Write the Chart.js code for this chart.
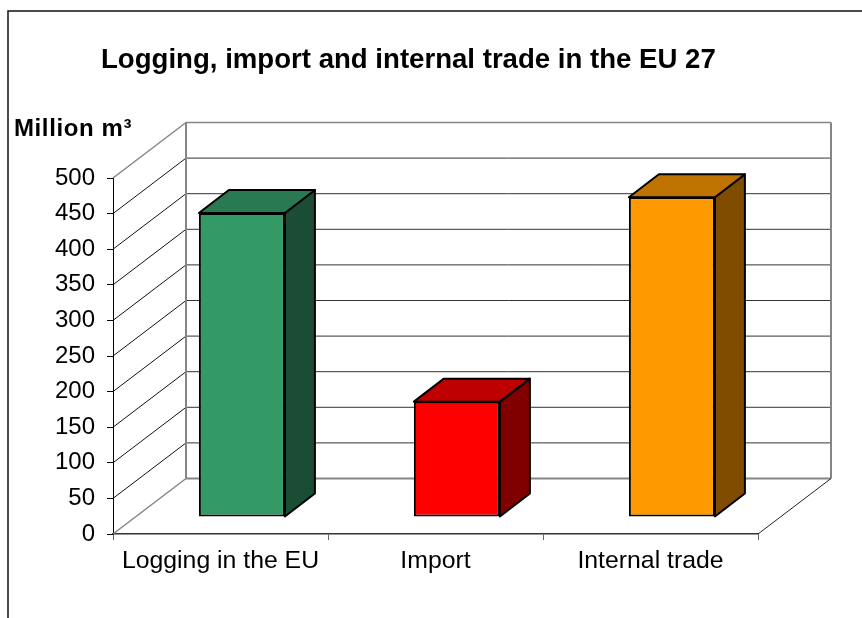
<!DOCTYPE html>
<html>
<head>
<meta charset="utf-8">
<title>Logging, import and internal trade in the EU 27</title>
<style>
  html, body { margin: 0; padding: 0; background: #fff; overflow: hidden; }
  canvas { display: block; }
</style>
<script src="https://cdn.jsdelivr.net/npm/chart.js@4/dist/chart.umd.min.js"></script>
</head>
<body>
<canvas id="grafico" width="862" height="618"></canvas>
<script>
var categorias = ['Logging in the EU', 'Import', 'Internal trade'];
var valores = [427, 162, 449];
var titulo = 'Logging, import and internal trade in the EU 27';
var tituloEje = 'Million m³';

var coloresFrente = ['#339966', '#FF0000', '#FF9900'];
var coloresTecho = ['#297A52', '#BF0000', '#BF7300'];
var coloresLado = ['#1A4D33', '#800000', '#804D00'];

// depth of the box and of the floor, in pixels
var fondoX = 73, fondoY = 55.5;
var barraX = 30, barraY = 23;
var corrX = 21.4, corrY = 17;

var gris = '#858585';

function linea(ctx, x1, y1, x2, y2, color, ancho) {
    ctx.beginPath();
    ctx.moveTo(x1, y1);
    ctx.lineTo(x2, y2);
    ctx.strokeStyle = color;
    ctx.lineWidth = ancho;
    ctx.stroke();
}

function cara(ctx, puntos, color) {
    ctx.beginPath();
    ctx.moveTo(puntos[0][0], puntos[0][1]);
    for (var i = 1; i < puntos.length; i++) ctx.lineTo(puntos[i][0], puntos[i][1]);
    ctx.closePath();
    ctx.fillStyle = color;
    ctx.fill();
    ctx.strokeStyle = '#000';
    ctx.lineWidth = 2;
    ctx.lineJoin = 'round';
    ctx.stroke();
}

var caja3d = {
    id: 'caja3d',
    beforeDatasetsDraw: function (chart) {
        var ctx = chart.ctx, a = chart.chartArea, y = chart.scales.y;
        ctx.save();
        y.ticks.forEach(function (t) {
            var py = y.getPixelForValue(t.value);
            var borde = t.value === y.min || t.value === y.max;
            if (!borde) {
                linea(ctx, a.left, py, a.left + fondoX, py - fondoY, '#111', 1);
                linea(ctx, a.left + fondoX, py - fondoY, a.right + fondoX, py - fondoY, '#333', 1);
            }
        });
        var arriba = a.top - fondoY, abajo = a.bottom - fondoY;
        // back wall
        linea(ctx, a.left + fondoX, arriba, a.right + fondoX, arriba, gris, 1.5);
        linea(ctx, a.left + fondoX, abajo, a.right + fondoX, abajo, gris, 2);
        linea(ctx, a.left + fondoX, arriba, a.left + fondoX, abajo, gris, 2);
        linea(ctx, a.right + fondoX, arriba, a.right + fondoX, abajo, gris, 2);
        // side wall and floor
        linea(ctx, a.left, a.top, a.left + fondoX, arriba, gris, 1.5);
        linea(ctx, a.left, a.bottom, a.left + fondoX, abajo, gris, 1.5);
        linea(ctx, a.right, a.bottom, a.right + fondoX, abajo, '#222', 1);
        ctx.restore();
    },
    beforeDatasetDraw: function (chart, args) {
        var ctx = chart.ctx;
        ctx.save();
        ctx.translate(corrX, -corrY);
        args.meta.data.forEach(function (b, i) {
            var mitad = b.width / 2, izq = b.x - mitad, der = b.x + mitad;
            cara(ctx, [[der, b.y], [der + barraX, b.y - barraY], [der + barraX, b.base - barraY], [der, b.base]], coloresLado[i]);
            cara(ctx, [[izq, b.y], [izq + barraX, b.y - barraY], [der + barraX, b.y - barraY], [der, b.y]], coloresTecho[i]);
        });
    },
    afterDatasetDraw: function (chart) {
        chart.ctx.restore();
    },
    afterDraw: function (chart) {
        var ctx = chart.ctx;
        ctx.save();
        // outer frame, cut by the picture on the right and at the bottom
        ctx.beginPath();
        ctx.moveTo(8, 618);
        ctx.lineTo(8, 11);
        ctx.lineTo(862, 11);
        ctx.strokeStyle = '#111';
        ctx.lineWidth = 1.5;
        ctx.stroke();
        ctx.fillStyle = '#000';
        ctx.textBaseline = 'alphabetic';
        ctx.textAlign = 'left';
        ctx.font = 'bold 27.6px "Liberation Sans"';
        ctx.fillText(titulo, 101, 68);
        ctx.font = 'bold 24px "Liberation Sans"';
        ctx.letterSpacing = '0.6px';
        ctx.fillText(tituloEje, 14, 136);
        ctx.restore();
    }
};

new Chart(document.getElementById('grafico').getContext('2d'), {
    type: 'bar',
    data: {
        labels: categorias,
        datasets: [{
            data: valores,
            backgroundColor: coloresFrente,
            borderColor: '#000',
            borderWidth: 2,
            borderSkipped: false,
            categoryPercentage: 1,
            barPercentage: 0.4,
            clip: false
        }]
    },
    options: {
        responsive: false,
        animation: false,
        layout: { padding: { top: 178, right: 104 } },
        plugins: {
            legend: { display: false },
            title: { display: false },
            tooltip: { enabled: false }
        },
        scales: {
            x: {
                afterFit: function (s) { s.height = 84; },
                grid: { drawOnChartArea: false, tickLength: 6, color: '#666' },
                border: { color: '#333', width: 1.5 },
                ticks: { color: '#000', font: { family: 'Liberation Sans', size: 24.8 }, padding: 6, maxRotation: 0 }
            },
            y: {
                min: 0,
                max: 500,
                afterFit: function (s) { s.width = 113; },
                grid: { drawOnChartArea: false, tickLength: 6, color: '#000' },
                border: { color: '#000', width: 1 },
                ticks: { stepSize: 50, color: '#000', font: { family: 'Liberation Sans', size: 24 }, padding: 12 }
            }
        }
    },
    plugins: [caja3d]
});
</script>
</body>
</html>
